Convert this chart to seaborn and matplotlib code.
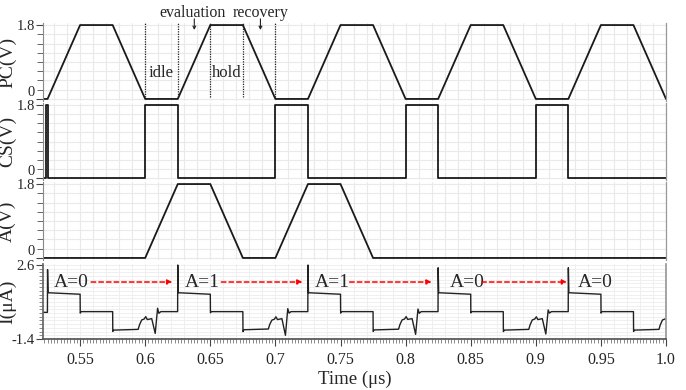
import numpy as np
import matplotlib
matplotlib.use('Agg')
import matplotlib.pyplot as plt
from matplotlib.ticker import MultipleLocator
import seaborn as sns

sns.set_theme(style='white')
plt.rcParams['font.family'] = ['Liberation Serif', 'DejaVu Serif']

# PC (precharge) signal breakpoints
pc_t = [0.5215, 0.525, 0.55, 0.575, 0.6, 0.625, 0.65, 0.675, 0.7, 0.725, 0.75,
        0.775, 0.8, 0.825, 0.85, 0.875, 0.9, 0.925, 0.95, 0.975, 1.0]
pc_v = [0, 0, 1.8, 1.8, 0, 0, 1.8, 1.8, 0, 0, 1.8,
        1.8, 0, 0, 1.8, 1.8, 0, 0, 1.8, 1.8, 0]

# CS signal
cs_t = [0.5215, 0.5238, 0.5238, 0.525, 0.525, 0.6, 0.6, 0.625, 0.625, 0.7, 0.7,
        0.725, 0.725, 0.8, 0.8, 0.825, 0.825, 0.9, 0.9, 0.925, 0.925, 1.0]
cs_v = [0, 0, 1.8, 1.8, 0, 0, 1.8, 1.8, 0, 0, 1.8,
        1.8, 0, 0, 1.8, 1.8, 0, 0, 1.8, 1.8, 0, 0]

# A input
a_t = [0.5215, 0.6, 0.625, 0.65, 0.675, 0.7, 0.725, 0.75, 0.775, 1.0]
a_v = [0, 0, 1.8, 1.8, 0, 0, 1.8, 1.8, 0, 0]

# current I (uA)
i_t = [0.5215, 0.5249,
       0.5250, 0.5254, 0.5500, 0.5501, 0.5508, 0.5750, 0.5751, 0.5758, 0.5946, 0.5956,
       0.5973, 0.5992, 0.6004, 0.6016, 0.6050, 0.6077, 0.6095, 0.6105, 0.6120, 0.6249,
       0.6250, 0.6254, 0.6500, 0.6501, 0.6508, 0.6750, 0.6751, 0.6758, 0.6946, 0.6956,
       0.6973, 0.6992, 0.7004, 0.7016, 0.7050, 0.7077, 0.7095, 0.7105, 0.7120, 0.7249,
       0.7250, 0.7254, 0.7500, 0.7501, 0.7508, 0.7750, 0.7751, 0.7758, 0.7946, 0.7956,
       0.7973, 0.7992, 0.8004, 0.8016, 0.8050, 0.8077, 0.8095, 0.8105, 0.8120, 0.8249,
       0.8250, 0.8254, 0.8500, 0.8501, 0.8508, 0.8750, 0.8751, 0.8758, 0.8946, 0.8956,
       0.8973, 0.8992, 0.9004, 0.9016, 0.9050, 0.9077, 0.9095, 0.9105, 0.9120, 0.9249,
       0.9250, 0.9254, 0.9500, 0.9501, 0.9508, 0.9750, 0.9751, 0.9758, 0.9946, 0.9956,
       0.9973, 0.9992, 1.0000]
i_v = [0.04, 0.04,
       2.35, 1.10, 1.02, 0.00, 0.08, 0.08, -0.99, -0.92, -0.88, -0.64,
       -0.37, -0.32, -0.19, -0.35, -0.30, -1.10, 0.26, -0.01, 0.08, 0.08,
       2.60, 1.10, 1.02, 0.02, 0.08, 0.08, -1.00, -0.90, -0.86, -0.62,
       -0.38, -0.33, -0.20, -0.35, -0.30, -1.20, 0.24, 0.00, 0.08, 0.08,
       2.60, 1.10, 1.02, 0.00, 0.08, 0.08, -0.99, -0.91, -0.87, -0.63,
       -0.37, -0.32, -0.19, -0.34, -0.30, -1.15, 0.22, -0.01, 0.08, 0.08,
       2.45, 1.10, 1.02, 0.01, 0.08, 0.08, -1.00, -0.92, -0.88, -0.64,
       -0.37, -0.32, -0.20, -0.35, -0.30, -1.13, 0.17, 0.00, 0.08, 0.08,
       2.45, 1.10, 1.02, 0.00, 0.08, 0.08, -0.99, -0.92, -0.88, -0.64,
       -0.37, -0.32, -0.30]

# annotations
phase_edges = [0.6, 0.625, 0.65, 0.675, 0.7]
phase_names = ['idle', 'hold']
phase_name_t = [0.6125, 0.6625]
top_names = ['evaluation', 'recovery']
top_name_t = [0.6365, 0.6885]
top_arrow_t = [0.6377, 0.6885]
state_labels = ['A=0', 'A=1', 'A=1', 'A=0', 'A=0']
state_t = [0.5300, 0.6305, 0.7300, 0.8338, 0.9323]
arrow_start = [0.5585, 0.6585, 0.7570, 0.8585]
arrow_end = [0.6208, 0.7208, 0.8200, 0.9240]

xticks = [0.55, 0.6, 0.65, 0.7, 0.75, 0.8, 0.85, 0.9, 0.95, 1.0]
xtick_labels = ['0.55', '0.6', '0.65', '0.7', '0.75', '0.8', '0.85', '0.9', '0.95', '1.0']
x0, x1 = 0.5215, 1.0

fig = plt.figure(figsize=(6.86, 3.90), dpi=100)
left, width = 43 / 686, 623 / 686
ax_pc = fig.add_axes([left, 1 - 101 / 390, width, 78 / 390])
ax_cs = fig.add_axes([left, 1 - 180 / 390, width, 77 / 390])
ax_a = fig.add_axes([left, 1 - 260 / 390, width, 78 / 390])
ax_i = fig.add_axes([left, 1 - 339 / 390, width, 75 / 390])

line_col = '#1a1a1a'
grid_col = '#e9e9e9'


def style_panel(ax, ylabel):
    ax.set_xlim(x0, x1)
    ax.set_ylim(-0.05, 1.85)
    ax.set_yticks([0, 1.8])
    ax.set_yticklabels(['0', '1.8'])
    ax.yaxis.set_minor_locator(MultipleLocator(0.225))
    ax.xaxis.set_major_locator(MultipleLocator(0.01))
    ax.tick_params(axis='x', which='both', length=0, labelbottom=False)
    ax.tick_params(axis='y', which='major', length=5, width=0.8, pad=1,
                   labelsize=10.5, left=True, color='#444')
    ax.tick_params(axis='y', which='minor', length=4, width=0.7, left=True, color='#666')
    # the "0" label sits just above its tick, like in the original
    ax.get_yticklabels()[0].set_verticalalignment('bottom')
    ax.grid(True, which='major', axis='x', color=grid_col, lw=0.8)
    ax.grid(True, which='both', axis='y', color=grid_col, lw=0.8)
    for s in ['top', 'bottom']:
        ax.spines[s].set_visible(False)
    ax.spines['left'].set_color('#888')
    ax.spines['left'].set_linewidth(0.8)
    ax.spines['right'].set_color('#999')
    ax.spines['right'].set_linewidth(0.9)
    ax.set_ylabel(ylabel, fontsize=14)
    ax.yaxis.set_label_coords(-0.043, 0.5)
    ax.set_xlabel('')


sns.lineplot(x=pc_t, y=pc_v, ax=ax_pc, estimator=None, sort=False, color=line_col, lw=1.3)
sns.lineplot(x=cs_t, y=cs_v, ax=ax_cs, estimator=None, sort=False, color=line_col, lw=1.3)
sns.lineplot(x=a_t, y=a_v, ax=ax_a, estimator=None, sort=False, color=line_col, lw=1.3)
sns.lineplot(x=i_t, y=i_v, ax=ax_i, estimator=None, sort=False, color='#222', lw=1.0)

style_panel(ax_pc, 'PC(V)')
style_panel(ax_cs, 'CS(V)')
style_panel(ax_a, 'A(V)')

# phase markers on PC panel
ax_pc.vlines(phase_edges, 0.05, 1.87, colors='#222', linestyles=(0, (1, 1)), lw=0.9,
             clip_on=False, zorder=3)
for name, t in zip(phase_names, phase_name_t):
    ax_pc.text(t, 0.63, name, ha='center', va='center', fontsize=12)
for name, t in zip(top_names, top_name_t):
    ax_pc.text(t, 2.1, name, ha='center', va='center', fontsize=11.5, clip_on=False)
for t in top_arrow_t:
    ax_pc.annotate('', xy=(t, 1.68), xytext=(t, 1.95), annotation_clip=False,
                   arrowprops=dict(arrowstyle='->', color='#222', lw=0.8, mutation_scale=5,
                                   shrinkA=0, shrinkB=0))

# current panel
ax_i.set_xlim(x0, x1)
ax_i.set_ylim(-1.4, 2.654)
ax_i.set_yticks([-1.4, 2.6])
ax_i.set_yticklabels(['-1.4', '2.6'])
ax_i.yaxis.set_minor_locator(MultipleLocator(0.2))
ax_i.set_xticks(xticks)
ax_i.set_xticklabels(xtick_labels)
ax_i.xaxis.set_minor_locator(MultipleLocator(0.0025))
ax_i.tick_params(axis='x', which='major', length=5, width=0.8, pad=4, labelsize=11.5,
                 bottom=True, color='#444')
ax_i.tick_params(axis='x', which='minor', length=3, width=0.6, bottom=True, color='#777')
ax_i.tick_params(axis='y', which='major', length=5, width=0.8, pad=1, labelsize=10.5,
                 left=True, color='#444')
ax_i.tick_params(axis='y', which='minor', length=3, width=0.6, left=True, color='#777')
for t in np.arange(0.53, 1.0, 0.01):
    ax_i.axvline(t, color='#efefef', lw=0.7, zorder=0)
ax_i.grid(True, which='both', axis='y', color='#efefef', lw=0.7)
ax_i.spines['top'].set_visible(False)
ax_i.spines['left'].set_color('#666')
ax_i.spines['bottom'].set_color('#555')
ax_i.spines['right'].set_color('#999')
ax_i.set_ylabel('I(μA)', fontsize=14)
ax_i.yaxis.set_label_coords(-0.043, 0.5)
ax_i.set_xlabel('Time (μs)', fontsize=13.5, labelpad=2)

for lab, t in zip(state_labels, state_t):
    ax_i.text(t, 1.68, lab, ha='left', va='center', fontsize=14)
for s, e in zip(arrow_start, arrow_end):
    ax_i.annotate('', xy=(e, 1.68), xytext=(s, 1.68),
                  arrowprops=dict(arrowstyle='-|>', color='red', lw=1.1, ls=(0, (3, 2)),
                                  mutation_scale=7, shrinkA=0, shrinkB=0))

fig.savefig('out.png', dpi=100)
